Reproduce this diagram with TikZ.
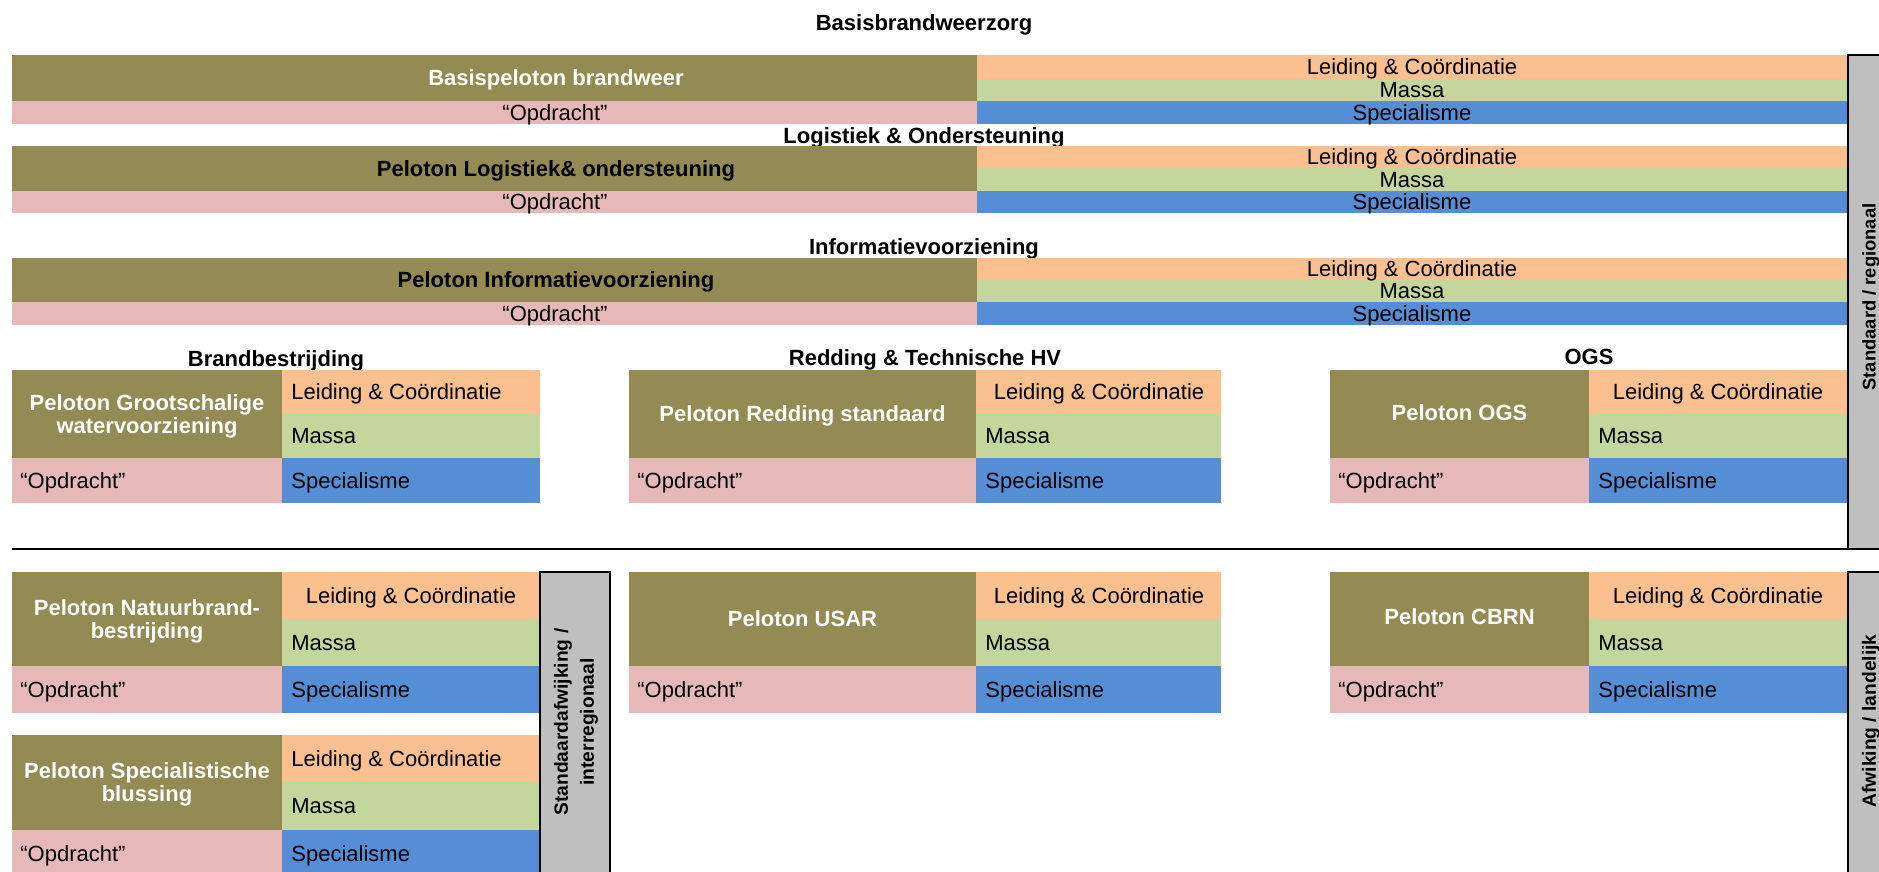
\documentclass[tikz,border=0pt]{standalone}
\usepackage{fontspec}
\setmainfont{Liberation Sans}
\definecolor{olv}{HTML}{948A54}
\definecolor{org}{HTML}{FAC090}
\definecolor{grn}{HTML}{C3D69B}
\definecolor{blu}{HTML}{558ED5}
\definecolor{pnk}{HTML}{E6B9B8}
\definecolor{gry}{HTML}{BFBFBF}
\tikzset{
  txt/.style={inner sep=0pt, font=\fontsize{11}{13}\selectfont, text height=7.9pt, text depth=0pt},
  hdr/.style={txt, font=\fontsize{11}{13}\selectfont\bfseries},
  ttl/.style={inner sep=0pt, align=center, text=white, font=\fontsize{11}{11.5}\selectfont\bfseries, yshift=-1.1pt},
  ttlone/.style={inner sep=0pt, text=white, font=\fontsize{11}{11.5}\selectfont\bfseries, text height=7.9pt, text depth=0pt},
  vtxt/.style={inner sep=0pt, rotate=90, align=center, font=\fontsize{9.2}{13}\selectfont\bfseries},
  barline/.style={draw=black, line width=1.2pt},
}
% small peloton block: name, x0, xs, x1, y0, y1, y2, y3, title
\newcommand{\pblock}[9]{%
  \fill[olv] (#2,#5) rectangle (#3,#7);
  \fill[pnk] (#2,#7) rectangle (#3,#8);
  \fill[org] (#3,#5) rectangle (#4,#6);
  \fill[grn] (#3,#6) rectangle (#4,#7);
  \fill[blu] (#3,#7) rectangle (#4,#8);
  \node[txt,anchor=west] (#1-o) at ({#2+8},{(#7+#8)/2}) {“Opdracht”};
  \node[txt,anchor=west] (#1-m) at ({#3+9},{(#6+#7)/2}) {Massa};
  \node[txt,anchor=west] (#1-s) at ({#3+9},{(#7+#8)/2}) {Specialisme};
  \coordinate (#1-c) at ({(#2+#3)/2},{(#5+#7)/2});
}
% wide band: name, y0, y1, y2, y3, title, title colour
\newcommand{\wband}[7]{%
  \fill[olv] (12,#2) rectangle (977,#4);
  \fill[pnk] (12,#4) rectangle (977,#5);
  \fill[org] (977,#2) rectangle (1847,#3);
  \fill[grn] (977,#3) rectangle (1847,#4);
  \fill[blu] (977,#4) rectangle (1847,#5);
  \node[ttlone, text=#7] (#1-t) at (556,{(#2+#4)/2}) {#6};
  \node[txt] (#1-o) at (555,{(#4+#5)/2}) {“Opdracht”};
  \node[txt] (#1-l) at (1412,{(#2+#3)/2}) {Leiding \& Coördinatie};
  \node[txt] (#1-m) at (1412,{(#3+#4)/2}) {Massa};
  \node[txt] (#1-s) at (1412,{(#4+#5)/2}) {Specialisme};
}
\begin{document}
\begin{tikzpicture}[x=0.5pt, y=-0.5pt]
\useasboundingbox (0,0) rectangle (1879,872);
\clip (0,0) rectangle (1879,872);

% headers
\node[hdr] (h0) at (924,23) {Basisbrandweerzorg};
\node[hdr] (h1) at (924,136) {Logistiek \& Ondersteuning};
\node[hdr] (h2) at (924,247) {Informatievoorziening};
\node[hdr] (h3) at (276,359) {Brandbestrijding};
\node[hdr] (h4) at (925,358) {Redding \& Technische HV};
\node[hdr] (h5) at (1589,357) {OGS};

% wide bands
\wband{w1}{55}{79}{101}{124}{Basispeloton brandweer}{white}
\wband{w2}{146}{168}{191}{213}{Peloton Logistiek\& ondersteuning}{black}
\wband{w3}{258}{280}{302}{325}{Peloton Informatievoorziening}{black}

% row 1
\pblock{a1}{12}{282}{540}{370}{414}{458}{503}{}
\node[ttl] (a1-t) at (a1-c) {Peloton Grootschalige\\watervoorziening};
\node[txt,anchor=west] (a1-l) at (291,392) {Leiding \& Coördinatie};
\pblock{b1}{629}{976}{1221}{370}{414}{458}{503}{}
\node[ttlone] (b1-t) at (b1-c) {Peloton Redding standaard};
\node[txt] (b1-l) at (1099,392) {Leiding \& Coördinatie};
\pblock{c1}{1330}{1589}{1847}{370}{414}{458}{503}{}
\node[ttlone] (c1-t) at ([yshift=0.5pt]c1-c) {Peloton OGS};
\node[txt] (c1-l) at (1718,392) {Leiding \& Coördinatie};

% separator line
\draw[line width=1.1pt] (12,549) -- (1879,549);

% row 2
\pblock{a2}{12}{282}{540}{572}{619}{666}{713}{}
\node[ttl] (a2-t) at (a2-c) {Peloton Natuurbrand-\\bestrijding};
\node[txt] (a2-l) at (411,595.5) {Leiding \& Coördinatie};
\pblock{b2}{629}{976}{1221}{572}{619}{666}{713}{}
\node[ttlone] (b2-t) at (b2-c) {Peloton USAR};
\node[txt] (b2-l) at (1099,595.5) {Leiding \& Coördinatie};
\pblock{c2}{1330}{1589}{1847}{572}{619}{666}{713}{}
\node[ttlone] (c2-t) at ([yshift=1pt]c2-c) {Peloton CBRN};
\node[txt] (c2-l) at (1718,595.5) {Leiding \& Coördinatie};

% row 3
\pblock{a3}{12}{282}{540}{735}{782}{830}{877}{}
\node[ttl] (a3-t) at (a3-c) {Peloton Specialistische\\blussing};
\node[txt,anchor=west] (a3-l) at (291,758.5) {Leiding \& Coördinatie};

% middle grey bar
\fill[gry] (540,572) rectangle (610,880);
\draw[draw=black, line width=0.8pt] (540,880) -- (540,572) -- (610,572) -- (610,880);
\node[vtxt, font=\fontsize{9.6}{13}\selectfont\bfseries] (mb) at (576,722) {Standaardafwijking /\\interregionaal};

% right grey bars
\fill[gry] (1848,55) rectangle (1890,548);
\draw[barline] (1890,55) -- (1848,55) -- (1848,548);
\node[vtxt] (rb1) at (1871,297) {Standaard / regionaal};
\fill[gry] (1848,572) rectangle (1890,880);
\draw[barline] (1890,572) -- (1848,572) -- (1848,880);
\node[vtxt, font=\fontsize{9.6}{13}\selectfont\bfseries] (rb2) at (1871,721) {Afwiking / landelijk};
\end{tikzpicture}
\end{document}
